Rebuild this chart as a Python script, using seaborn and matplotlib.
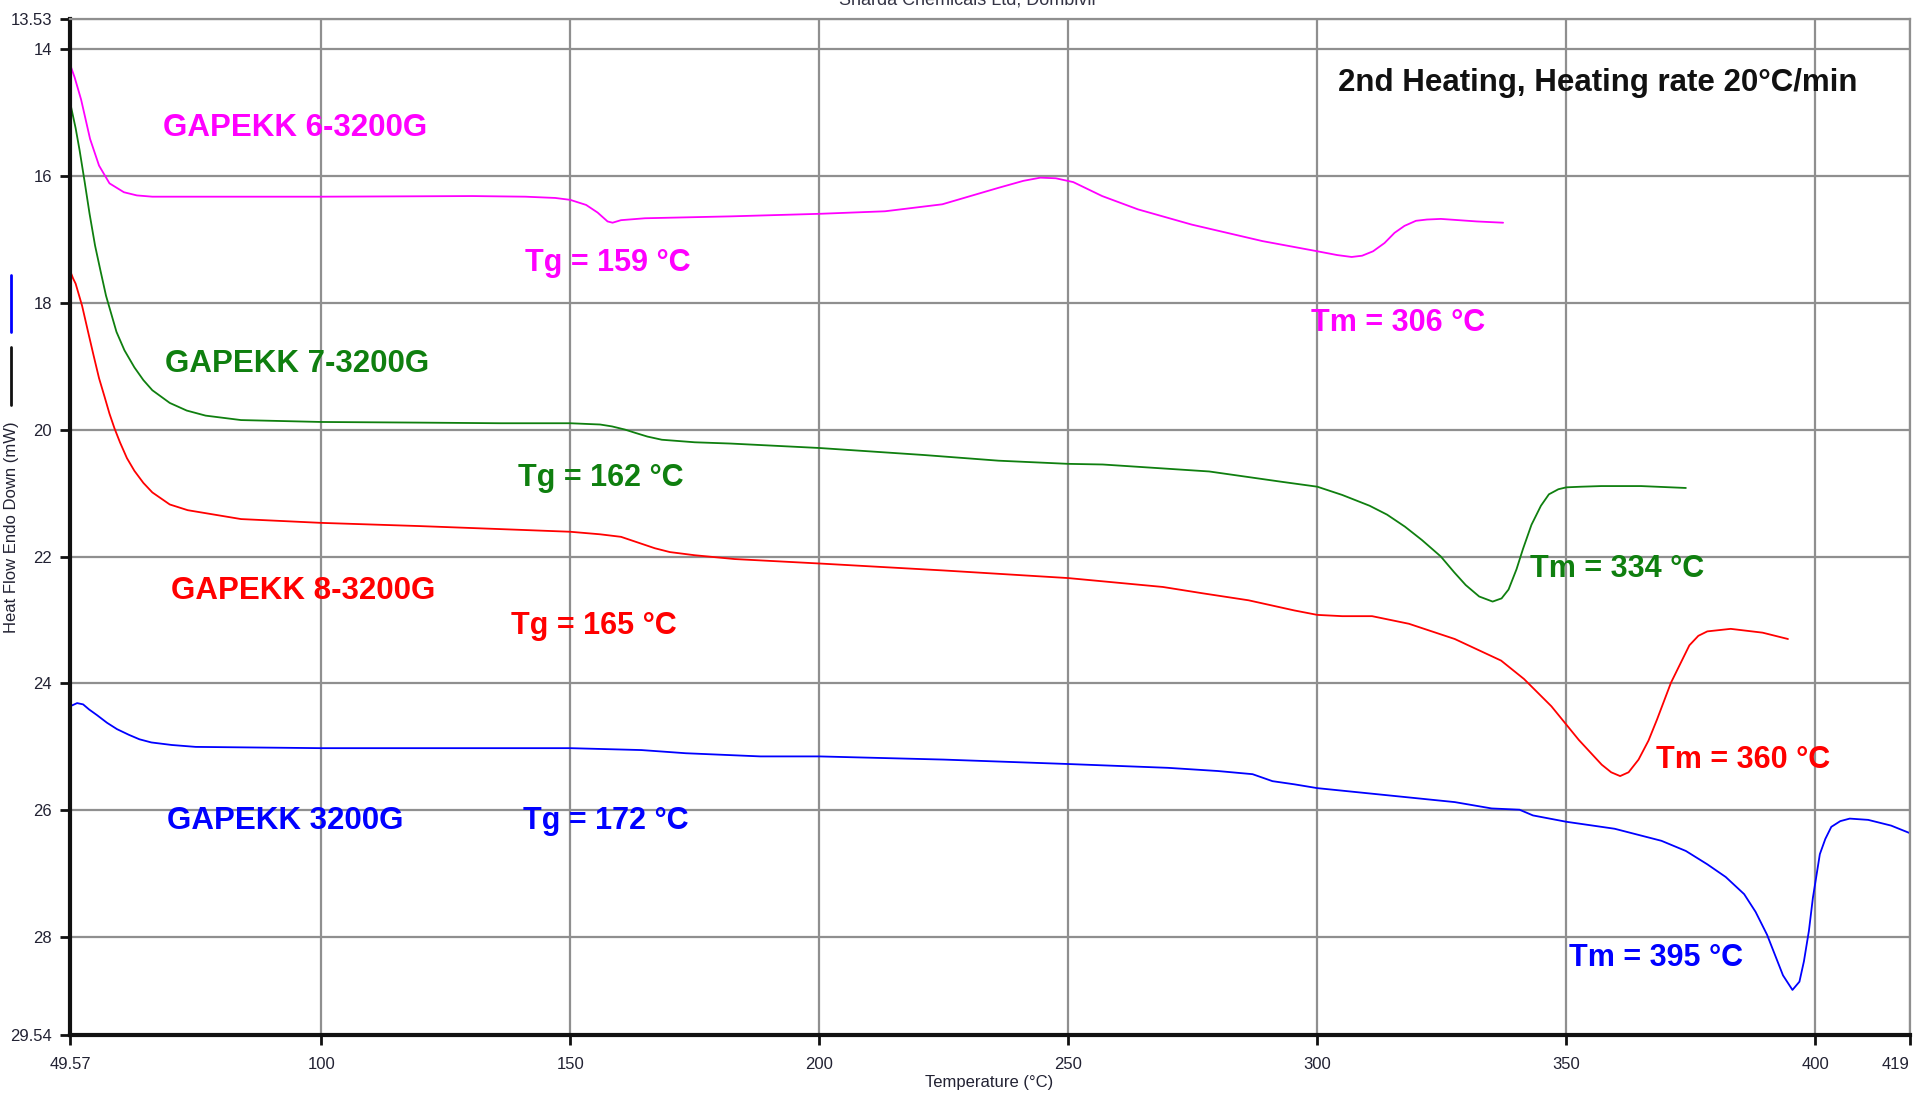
import matplotlib
matplotlib.use("Agg")
import matplotlib.pyplot as plt
from matplotlib.lines import Line2D
import seaborn as sns
import pandas as pd

# ---------------- data ----------------
t_6 = [49.6, 50.5, 51.8, 53.6, 55.4, 57.5, 60.4, 63, 66.1, 76.8, 100, 130.4, 141, 147, 150,
       153.2, 155.5, 157.5, 158.5, 160.2, 165, 182.2, 200, 213.2, 224.7, 236, 241, 244.4,
       247.5, 251, 256.8, 264, 274.8, 289, 300, 304, 306.9, 309, 311.2, 313.5, 315.5, 317.5,
       319.8, 322, 324.8, 332, 337.3]
hf_6 = [14.25, 14.45, 14.8, 15.42, 15.84, 16.12, 16.26, 16.31, 16.33, 16.33, 16.33, 16.32,
        16.33, 16.35, 16.38, 16.46, 16.58, 16.72, 16.74, 16.7, 16.67, 16.64, 16.6, 16.56,
        16.45, 16.19, 16.08, 16.03, 16.04, 16.1, 16.32, 16.53, 16.77, 17.03, 17.19, 17.25,
        17.28, 17.26, 17.19, 17.06, 16.9, 16.79, 16.71, 16.69, 16.68, 16.72, 16.74]

t_7 = [49.6, 50.7, 51.5, 52.5, 53.5, 54.6, 55.7, 56.8, 58.9, 60.5, 62.5, 64.3, 66.1, 69.6, 73,
       76.8, 83.9, 100, 119.6, 136, 150, 156, 158.4, 161, 163, 165.5, 168.4, 175, 182.2, 200,
       220.9, 236, 250, 256.9, 278.3, 292.6, 300, 305, 310.5, 314, 317.6, 321, 324.8, 327.5,
       329.8, 332.5, 335.2, 337, 338.4, 340, 341.3, 343, 344.9, 346.5, 348.4, 350, 353, 357,
       365, 374]
hf_7 = [14.85, 15.25, 15.6, 16.09, 16.6, 17.1, 17.5, 17.89, 18.46, 18.75, 19.02, 19.22, 19.38,
        19.58, 19.7, 19.78, 19.85, 19.88, 19.89, 19.9, 19.9, 19.92, 19.95, 20.0, 20.05, 20.11,
        20.16, 20.2, 20.22, 20.29, 20.4, 20.49, 20.54, 20.55, 20.66, 20.82, 20.9, 21.03, 21.2,
        21.34, 21.53, 21.74, 22.0, 22.25, 22.45, 22.63, 22.71, 22.66, 22.52, 22.2, 21.88, 21.5,
        21.2, 21.02, 20.94, 20.91, 20.9, 20.89, 20.89, 20.92]

t_8 = [49.6, 50.2, 50.7, 52, 53.2, 54.3, 55.4, 56.5, 57.5, 58.5, 59.6, 61, 62.5, 64.3, 66.1,
       69.6, 73.2, 83.9, 100, 119.6, 140, 150, 156, 160.2, 163.6, 167, 170, 175, 183, 200,
       225, 250, 269, 277, 286.2, 295.4, 300, 305, 311, 318.4, 327.6, 336.9, 341.5, 347,
       352.5, 357.1, 359, 360.8, 362.5, 364.5, 366.5, 368.2, 371, 374.7, 376.5, 378.3, 383,
       389.4, 394.5]
hf_8 = [17.5, 17.62, 17.7, 18.05, 18.46, 18.83, 19.19, 19.48, 19.75, 19.98, 20.2, 20.45, 20.65,
        20.84, 20.99, 21.18, 21.27, 21.41, 21.47, 21.52, 21.58, 21.61, 21.65, 21.69, 21.78,
        21.87, 21.93, 21.98, 22.04, 22.11, 22.22, 22.34, 22.48, 22.58, 22.69, 22.85, 22.92,
        22.94, 22.94, 23.06, 23.3, 23.64, 23.93, 24.36, 24.89, 25.28, 25.4, 25.46, 25.4, 25.2,
        24.9, 24.57, 23.99, 23.4, 23.25, 23.18, 23.14, 23.2, 23.3]

t_base = [49.6, 51, 52.2, 53.4, 55, 57, 59, 61.4, 63.5, 65.9, 70, 74.8, 100, 150, 164.3, 173.2,
          188.2, 200, 225, 250, 270, 280, 287, 291, 295.4, 300, 313.8, 327.6, 335, 340.6,
          343.3, 350, 359.7, 369.1, 374, 378.3, 382, 385.7, 388, 390.3, 392, 393.5, 395.4,
          396.8, 397.7, 398.7, 399.5, 400.9, 402, 403.2, 405, 406.9, 410.6, 415.2, 419]
hf_base = [24.36, 24.31, 24.33, 24.41, 24.5, 24.62, 24.72, 24.81, 24.88, 24.93, 24.97, 25.0,
           25.02, 25.02, 25.05, 25.1, 25.15, 25.15, 25.2, 25.27, 25.33, 25.38, 25.43, 25.54,
           25.59, 25.65, 25.76, 25.87, 25.97, 25.99, 26.08, 26.18, 26.29, 26.48, 26.64, 26.85,
           27.05, 27.32, 27.6, 27.96, 28.3, 28.6, 28.83, 28.7, 28.38, 27.9, 27.38, 26.69,
           26.45, 26.26, 26.17, 26.13, 26.15, 26.24, 26.36]

samples = ["GAPEKK 6-3200G", "GAPEKK 7-3200G", "GAPEKK 8-3200G", "GAPEKK 3200G"]
tg_labels = ["Tg = 159 °C", "Tg = 162 °C", "Tg = 165 °C", "Tg = 172 °C"]
tm_labels = ["Tm = 306 °C", "Tm = 334 °C", "Tm = 360 °C", "Tm = 395 °C"]

x_ticks = [49.57, 100, 150, 200, 250, 300, 350, 400, 419]
x_ticklabels = ["49.57", "100", "150", "200", "250", "300", "350", "400", "419"]
y_ticks = [13.53, 14, 16, 18, 20, 22, 24, 26, 28, 29.54]
y_ticklabels = ["13.53", "14", "16", "18", "20", "22", "24", "26", "28", "29.54"]

# ---------------- styling ----------------
colors = ["#FF00FF", "#0F7F0F", "#FF0000", "#0000FF"]
name_pos = [(68.3, 15.25), (68.6, 18.96), (69.8, 22.55), (69.0, 26.16)]
tg_pos = [(141.0, 17.38), (139.6, 20.76), (138.1, 23.09), (140.5, 26.16)]
tm_pos = [(298.8, 18.32), (342.7, 22.2), (368.0, 25.2), (350.6, 28.32)]

sns.set_theme(style="white")
plt.rcParams["font.family"] = ["Liberation Sans", "DejaVu Sans"]

fig = plt.figure(figsize=(19.2, 10.95), dpi=100)
ax = fig.add_axes([70 / 1920, 1 - 1035 / 1095, 1840 / 1920, (1035 - 19) / 1095])

series = [(t_6, hf_6), (t_7, hf_7), (t_8, hf_8), (t_base, hf_base)]
frames = []
for name, (t, hf) in zip(samples, series):
    frames.append(pd.DataFrame({"Temperature": t, "HeatFlow": hf, "Sample": name}))
df = pd.concat(frames, ignore_index=True)

sns.lineplot(data=df, x="Temperature", y="HeatFlow", hue="Sample",
             palette=dict(zip(samples, colors)), estimator=None, sort=False,
             linewidth=1.3, legend=False, ax=ax)

ax.set_xlim(49.57, 419)
ax.set_ylim(29.54, 13.53)
ax.set_xticks(x_ticks)
ax.set_xticklabels(x_ticklabels)
ax.set_yticks(y_ticks)
ax.set_yticklabels(y_ticklabels)
ax.grid(True, color="#8f8f8f", linewidth=1.6)
ax.set_axisbelow(True)
ax.tick_params(axis="both", direction="out", length=7, width=2, color="#111111",
               labelsize=12, labelcolor="#222233", pad=6, left=True, bottom=True)
ax.tick_params(axis="x", pad=9)
ax.get_xticklabels()[-1].set_horizontalalignment("right")
ax.set_xlabel("")
ax.set_ylabel("")
for side in ["left", "bottom"]:
    ax.spines[side].set_color("#111111")
    ax.spines[side].set_linewidth(3)
for side in ["top", "right"]:
    ax.spines[side].set_color("#8f8f8f")
    ax.spines[side].set_linewidth(1.6)

for i in range(4):
    c = colors[i]
    ax.text(*name_pos[i], samples[i], color=c, fontsize=22.5, fontweight="bold", ha="left", va="center")
    ax.text(*tg_pos[i], tg_labels[i], color=c, fontsize=22, fontweight="bold", ha="left", va="center")
    ax.text(*tm_pos[i], tm_labels[i], color=c, fontsize=22, fontweight="bold", ha="left", va="center")

ax.text(304.2, 14.54, "2nd Heating, Heating rate 20°C/min", color="#111111", fontsize=22.5,
        fontweight="bold", ha="left", va="center")

fig.text(989 / 1920, 1 - 1083 / 1095, "Temperature (°C)", fontsize=12, color="#222233",
         ha="center", va="center")
fig.text(12 / 1920, 1 - 527 / 1095, "Heat Flow Endo Down (mW)", fontsize=12, color="#222233",
         rotation=90, ha="center", va="center")
fig.add_artist(Line2D([11 / 1920, 11 / 1920], [1 - 275 / 1095, 1 - 332 / 1095],
                      color="#0000FF", linewidth=2, transform=fig.transFigure))
fig.add_artist(Line2D([11 / 1920, 11 / 1920], [1 - 347 / 1095, 1 - 405 / 1095],
                      color="#111111", linewidth=2, transform=fig.transFigure))
fig.text(967 / 1920, 1.0, "Sharda Chemicals Ltd, Dombivli", fontsize=13, color="#333344",
         ha="center", va="center")

fig.savefig("out.png", dpi=100, facecolor="white")
